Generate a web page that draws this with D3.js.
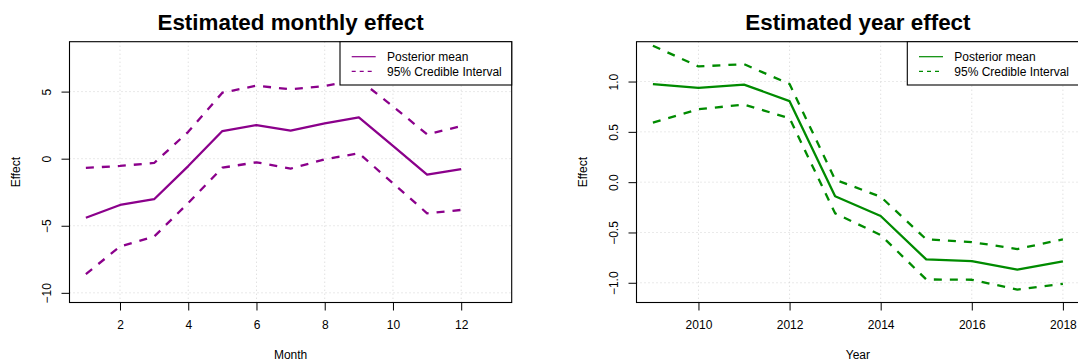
<!DOCTYPE html>
<html>
<head>
<meta charset="utf-8">
<script src="https://cdn.jsdelivr.net/npm/d3@7"></script>
<style>
  html, body { margin: 0; padding: 0; background: #ffffff; }
  svg { display: block; font-family: "Liberation Sans", Arial, Helvetica, sans-serif; }
</style>
</head>
<body>
<svg id="chart" width="1078" height="362"></svg>
<script>
// Monthly effect estimates (posterior mean and 95% credible bounds)
const months = [1, 2, 3, 4, 5, 6, 7, 8, 9, 10, 11, 12];
const monthMean  = [-4.40, -3.45, -3.02, -0.55, 2.06, 2.51, 2.09, 2.63, 3.08, 0.95, -1.19, -0.77];
const monthUpper = [-0.69, -0.54, -0.32, 2.00, 4.92, 5.44, 5.17, 5.41, 5.90, 3.90, 1.81, 2.43];
const monthLower = [-8.60, -6.55, -5.81, -3.30, -0.67, -0.27, -0.74, -0.05, 0.40, -1.83, -4.07, -3.82];
const monthTicksX = [2, 4, 6, 8, 10, 12];
const monthTicksY = [-10, -5, 0, 5];

// Year effect estimates
const years = [2009, 2010, 2011, 2012, 2013, 2014, 2015, 2016, 2017, 2018];
const yearMean  = [0.974, 0.937, 0.970, 0.805, -0.140, -0.336, -0.768, -0.784, -0.870, -0.788];
const yearUpper = [1.356, 1.150, 1.173, 0.975, 0.025, -0.145, -0.568, -0.595, -0.665, -0.568];
const yearLower = [0.591, 0.725, 0.771, 0.635, -0.310, -0.525, -0.967, -0.970, -1.067, -1.010];
const yearTicksX = [2010, 2012, 2014, 2016, 2018];
const yearTicksY = [-1.0, -0.5, 0.0, 0.5, 1.0];

const legendLabels = ["Posterior mean", "95% Credible Interval"];

const svg = d3.select("#chart");
const plotTop = 41.7, plotBottom = 302.5;
const fontSize = 12;

function drawPanel(o) {
  const x = d3.scaleLinear().domain(o.xDomain).range([o.left, o.right]);
  const y = d3.scaleLinear().domain(o.yDomain).range([plotBottom, plotTop]);
  const g = svg.append("g");

  // grid
  g.append("g").selectAll("line").data(o.xTicks).join("line")
    .attr("x1", d => x(d)).attr("x2", d => x(d))
    .attr("y1", plotTop).attr("y2", plotBottom)
    .attr("stroke", "#d3d3d3").attr("stroke-width", 1).attr("stroke-dasharray", "1,3");
  g.append("g").selectAll("line").data(o.yTicks).join("line")
    .attr("x1", o.left).attr("x2", o.right)
    .attr("y1", d => y(d)).attr("y2", d => y(d))
    .attr("stroke", "#d3d3d3").attr("stroke-width", 1).attr("stroke-dasharray", "1,3");

  // series
  const line = d3.line().x(d => x(d[0])).y(d => y(d[1]));
  const series = [
    { v: o.mean, dash: null },
    { v: o.upper, dash: "8,8" },
    { v: o.lower, dash: "8,8" }
  ];
  series.forEach(s => {
    g.append("path")
      .datum(o.xs.map((xv, i) => [xv, s.v[i]]))
      .attr("d", line)
      .attr("fill", "none")
      .attr("stroke", o.color)
      .attr("stroke-width", 2.3)
      .attr("stroke-linejoin", "round")
      .attr("stroke-dasharray", s.dash);
  });

  // axes
  const xAxis = g.append("g").attr("transform", `translate(0,${plotBottom})`)
    .call(d3.axisBottom(x).tickValues(o.xTicks).tickSize(8).tickPadding(10).tickFormat(d3.format("d")));
  xAxis.select(".domain").remove();
  xAxis.selectAll("line").attr("stroke", "#000");
  xAxis.selectAll("text").attr("font-size", fontSize).attr("fill", "#000").attr("font-family", null);

  const yAxis = g.append("g").attr("transform", `translate(${o.left},0)`)
    .call(d3.axisLeft(y).tickValues(o.yTicks).tickSize(8).tickFormat(o.yFormat));
  yAxis.select(".domain").remove();
  yAxis.selectAll("line").attr("stroke", "#000");
  yAxis.selectAll("text")
    .attr("x", null).attr("dy", "0.35em")
    .attr("text-anchor", "middle")
    .attr("transform", "translate(-23,0) rotate(-90)")
    .attr("font-size", fontSize).attr("fill", "#000").attr("font-family", null);

  // frame
  g.append("rect")
    .attr("x", o.left).attr("y", plotTop)
    .attr("width", o.right - o.left).attr("height", plotBottom - plotTop)
    .attr("fill", "none").attr("stroke", "#000").attr("stroke-width", 1.1);

  // titles
  const cx = (o.left + o.right) / 2;
  g.append("text").attr("x", cx).attr("y", 30)
    .attr("text-anchor", "middle").attr("font-size", 22.4).attr("font-weight", "bold")
    .text(o.title);
  g.append("text").attr("x", cx).attr("y", 358.5)
    .attr("text-anchor", "middle").attr("font-size", fontSize)
    .text(o.xLabel);
  g.append("text")
    .attr("transform", `translate(${o.left - 53.5},${(plotTop + plotBottom) / 2}) rotate(-90)`)
    .attr("dy", "0.35em")
    .attr("text-anchor", "middle").attr("font-size", fontSize)
    .text("Effect");

  // legend
  const lg = g.append("g");
  lg.append("rect")
    .attr("x", o.legendX).attr("y", plotTop)
    .attr("width", o.right - o.legendX).attr("height", 85 - plotTop)
    .attr("fill", "#fff").attr("stroke", "#000").attr("stroke-width", 1.1);
  [56.7, 71.3].forEach((ly, i) => {
    lg.append("line")
      .attr("x1", o.legendX + 11.7).attr("x2", o.legendX + 35.7)
      .attr("y1", ly).attr("y2", ly)
      .attr("stroke", o.color).attr("stroke-width", 1.2)
      .attr("stroke-dasharray", i === 0 ? null : "4,4");
    lg.append("text")
      .attr("x", o.legendX + 47).attr("y", ly).attr("dy", "0.35em")
      .attr("font-size", fontSize).text(legendLabels[i]);
  });
}

drawPanel({
  xs: months, mean: monthMean, upper: monthUpper, lower: monthLower,
  xDomain: [0.52, 13.48], yDomain: [-10.72, 8.72],
  left: 69.5, right: 511.7,
  xTicks: monthTicksX, yTicks: monthTicksY, yFormat: d3.format("d"),
  color: "#8B008B",
  title: "Estimated monthly effect", xLabel: "Month",
  legendX: 340
});

drawPanel({
  xs: years, mean: yearMean, upper: yearUpper, lower: yearLower,
  xDomain: [2008.64, 2018.36], yDomain: [-1.196, 1.396],
  left: 636.5, right: 1079.3,
  xTicks: yearTicksX, yTicks: yearTicksY, yFormat: d3.format(".1f"),
  color: "#008B00",
  title: "Estimated year effect", xLabel: "Year",
  legendX: 907.3
});
</script>
</body>
</html>
